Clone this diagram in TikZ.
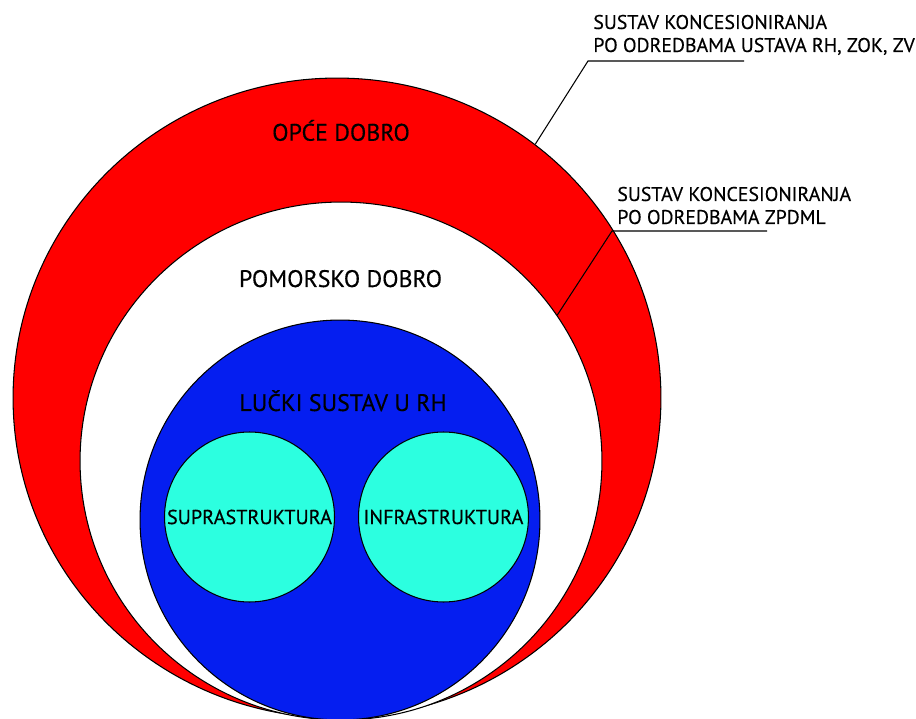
\documentclass[tikz,border=0pt]{standalone}
\usepackage{fontspec}
\setmainfont{PT Sans}[FakeBold=0.4]
\usetikzlibrary{shapes.geometric}
\definecolor{ringred}{RGB}{255,0,0}
\definecolor{portblue}{RGB}{5,30,240}
\definecolor{partcyan}{RGB}{44,255,224}

\tikzset{
  zone/.style={ellipse, draw=black, line width=0.6pt, inner sep=0pt},
  bigtxt/.style={font=\fontsize{13.6}{15}\selectfont, anchor=base, inner sep=0pt},
  smalltxt/.style={font=\fontsize{11.5}{13}\selectfont, inner sep=0pt},
  notetxt/.style={font=\fontsize{11.3}{13.1}\selectfont, align=left, anchor=base west, inner sep=0pt},
  leader/.style={draw=black, line width=0.6pt}
}

\begin{document}
\begin{tikzpicture}[x=0.02cm, y=-0.02cm]
  \useasboundingbox (0,0) rectangle (916,719);
  \clip (0,0) rectangle (916,719);

  % nested zones
  \node[zone, fill=ringred, minimum width=12.96cm, minimum height=12.8cm] (opce) at (337,398) {};
  \node[zone, fill=white, minimum width=10.44cm, minimum height=10.36cm] (pomorsko) at (341,461) {};
  \node[zone, fill=portblue, minimum width=8cm, minimum height=8cm] (luka) at (340,520) {};
  \node[zone, fill=partcyan, minimum width=3.4cm, minimum height=3.4cm] (supra) at (249.5,517) {};
  \node[zone, fill=partcyan, minimum width=3.4cm, minimum height=3.4cm] (infra) at (443.5,517) {};

  % zone names
  \node[bigtxt] (opcetxt) at (341,140.7) {OPĆE DOBRO};
  \node[bigtxt] (pomorskotxt) at (340.5,287) {POMORSKO DOBRO};
  \node[bigtxt] (lukatxt) at (343,411) {LUČKI SUSTAV U RH};
  \node[smalltxt] (supratxt) at (supra) {SUPRASTRUKTURA};
  \node[smalltxt] (infratxt) at (infra) {INFRASTRUKTURA};

  % notes with leaders
  \coordinate (kneeA) at (588,61);
  \coordinate (tailA) at (744,61);
  \coordinate (kneeB) at (612,231);
  \coordinate (tailB) at (767,231);
  \draw[leader] (opce.52) -- (kneeA) -- (tailA);
  \draw[leader] (pomorsko.34) -- (kneeB) -- (tailB);
  \node[notetxt] (noteA) at (593,52) {SUSTAV KONCESIONIRANJA\\PO ODREDBAMA USTAVA RH, ZOK, ZV};
  \node[notetxt] (noteB) at (617,224) {SUSTAV KONCESIONIRANJA\\PO ODREDBAMA ZPDML};
\end{tikzpicture}
\end{document}
